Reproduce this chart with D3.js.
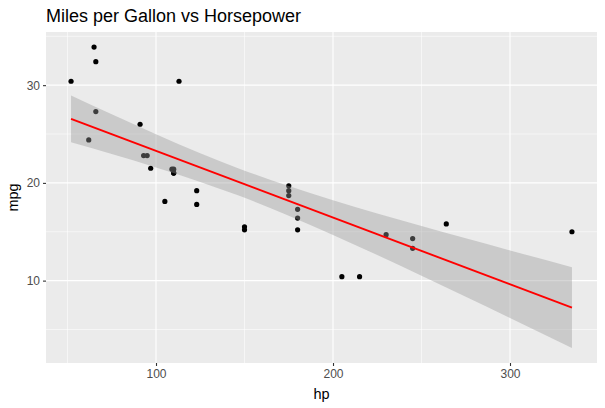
<!DOCTYPE html>
<html>
<head>
<meta charset="utf-8">
<script src="https://cdn.jsdelivr.net/npm/d3@7"></script>
<style>
  body { margin: 0; background: #fff; }
  text { font-family: "Liberation Sans", Arial, sans-serif; }
</style>
</head>
<body>
<div id="chart"></div>
<script>
// mtcars: horsepower and miles per gallon
const hp  = [110, 110, 93, 110, 175, 105, 245, 62, 95, 123, 123, 180, 180, 180, 205, 215,
             230, 66, 52, 65, 97, 150, 150, 245, 175, 66, 91, 113, 264, 175, 335, 109];
const mpg = [21.0, 21.0, 22.8, 21.4, 18.7, 18.1, 14.3, 24.4, 22.8, 19.2, 17.8, 16.4, 17.3, 15.2, 10.4, 10.4,
             14.7, 32.4, 30.4, 33.9, 21.5, 15.5, 15.2, 13.3, 19.2, 27.3, 26.0, 30.4, 15.8, 19.7, 15.0, 21.4];

// linear fit and its 95% band, read at these hp values
const bandHp   = [52, 75, 100, 125, 146.7, 175, 200, 225, 250, 275, 300, 335];
const bandLow  = [24.15, 22.95, 21.58, 20.10, 18.70, 16.65, 14.68, 12.61, 10.49, 8.34, 6.17, 3.11];
const bandHigh = [28.95, 27.02, 24.97, 23.03, 21.48, 19.67, 18.23, 16.88, 15.59, 14.33, 13.09, 11.38];
const fitHp  = [52, 335];
const fitMpg = [26.55, 7.24];

const xTicks = [100, 200, 300];
const xMinor = [50, 150, 250];
const yTicks = [10, 20, 30];
const yMinor = [5, 15, 25, 35];

const width = 605, height = 408;
const margin = { top: 32, right: 8, bottom: 45, left: 46 };

const svg = d3.select("#chart").append("svg")
  .attr("width", width).attr("height", height);

const x = d3.scaleLinear()
  .domain([37.85, 349.15])
  .range([margin.left, width - margin.right]);
const y = d3.scaleLinear()
  .domain([1.57, 35.44])
  .range([height - margin.bottom, margin.top]);

// panel
svg.append("rect")
  .attr("x", margin.left).attr("y", margin.top)
  .attr("width", width - margin.left - margin.right)
  .attr("height", height - margin.top - margin.bottom)
  .attr("fill", "#EBEBEB");

const grid = svg.append("g");
grid.selectAll("line.xminor").data(xMinor).enter().append("line")
  .attr("x1", d => x(d)).attr("x2", d => x(d))
  .attr("y1", margin.top).attr("y2", height - margin.bottom)
  .attr("stroke", "#fff").attr("stroke-width", 0.55);
grid.selectAll("line.yminor").data(yMinor).enter().append("line")
  .attr("y1", d => y(d)).attr("y2", d => y(d))
  .attr("x1", margin.left).attr("x2", width - margin.right)
  .attr("stroke", "#fff").attr("stroke-width", 0.55);
grid.selectAll("line.xmajor").data(xTicks).enter().append("line")
  .attr("x1", d => x(d)).attr("x2", d => x(d))
  .attr("y1", margin.top).attr("y2", height - margin.bottom)
  .attr("stroke", "#fff").attr("stroke-width", 1.1);
grid.selectAll("line.ymajor").data(yTicks).enter().append("line")
  .attr("y1", d => y(d)).attr("y2", d => y(d))
  .attr("x1", margin.left).attr("x2", width - margin.right)
  .attr("stroke", "#fff").attr("stroke-width", 1.1);

// points
svg.append("g").selectAll("circle")
  .data(hp.map((h, i) => ({ hp: h, mpg: mpg[i] })))
  .enter().append("circle")
  .attr("cx", d => x(d.hp))
  .attr("cy", d => y(d.mpg))
  .attr("r", 2.6)
  .attr("fill", "#000");

// confidence band
const band = bandHp.map((h, i) => ({ hp: h, lo: bandLow[i], hi: bandHigh[i] }));
svg.append("path")
  .datum(band)
  .attr("d", d3.area()
    .x(d => x(d.hp))
    .y0(d => y(d.lo))
    .y1(d => y(d.hi))
    .curve(d3.curveMonotoneX))
  .attr("fill", "#999999")
  .attr("fill-opacity", 0.4);

// fitted line
svg.append("path")
  .datum(fitHp.map((h, i) => ({ hp: h, mpg: fitMpg[i] })))
  .attr("d", d3.line().x(d => x(d.hp)).y(d => y(d.mpg)))
  .attr("fill", "none")
  .attr("stroke", "#FF0000")
  .attr("stroke-width", 1.9);

// axes
const xAxis = svg.append("g")
  .attr("transform", `translate(0,${height - margin.bottom})`)
  .call(d3.axisBottom(x).tickValues(xTicks).tickSize(3).tickPadding(3));
const yAxis = svg.append("g")
  .attr("transform", `translate(${margin.left},0)`)
  .call(d3.axisLeft(y).tickValues(yTicks).tickSize(3).tickPadding(3));
[xAxis, yAxis].forEach(a => {
  a.select(".domain").remove();
  a.selectAll(".tick line").attr("stroke", "#333333").attr("stroke-width", 1.1);
  a.selectAll(".tick text").attr("fill", "#4D4D4D").style("font-size", "12px")
    .style("font-family", "'Liberation Sans', Arial, sans-serif");
});

// labels
svg.append("text")
  .attr("x", (margin.left + width - margin.right) / 2)
  .attr("y", height - 9)
  .attr("text-anchor", "middle")
  .style("font-size", "14.5px")
  .attr("fill", "#000")
  .text("hp");
svg.append("text")
  .attr("transform", `translate(18,${(margin.top + height - margin.bottom) / 2}) rotate(-90)`)
  .attr("text-anchor", "middle")
  .style("font-size", "14.5px")
  .attr("fill", "#000")
  .text("mpg");
svg.append("text")
  .attr("x", margin.left)
  .attr("y", 22)
  .style("font-size", "18px")
  .attr("fill", "#000")
  .text("Miles per Gallon vs Horsepower");
</script>
</body>
</html>
